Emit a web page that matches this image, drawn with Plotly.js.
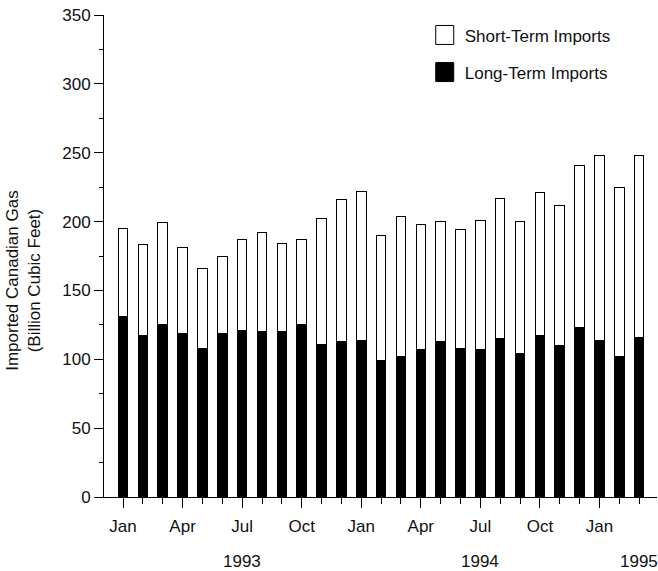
<!DOCTYPE html>
<html>
<head>
<meta charset="utf-8">
<script src="https://cdn.plot.ly/plotly-3.0.1.min.js"></script>
<style>html,body{margin:0;padding:0;background:#fff;}#chart{width:658px;height:571px;}</style>
</head>
<body>
<div id="chart"></div>
<script>
// Months Jan 1993 .. Mar 1995
const months = ["Jan 1993","Feb 1993","Mar 1993","Apr 1993","May 1993","Jun 1993","Jul 1993","Aug 1993","Sep 1993","Oct 1993","Nov 1993","Dec 1993",
                "Jan 1994","Feb 1994","Mar 1994","Apr 1994","May 1994","Jun 1994","Jul 1994","Aug 1994","Sep 1994","Oct 1994","Nov 1994","Dec 1994",
                "Jan 1995","Feb 1995","Mar 1995"];
const longTerm  = [131,117,125,119,108,119,121,120,120,125,111,113,114,99,102,107,113,108,107,115,104,117,110,123,114,102,116];
const totals    = [195,183,199,181,166,175,187,192,184,187,202,216,222,190,204,198,200,194,201,217,200,221,212,241,248,225,248];
const shortTerm = totals.map((t, i) => t - longTerm[i]);
const tickLabels = ["Jan","Apr","Jul","Oct","Jan","Apr","Jul","Oct","Jan"];
const tickIdx    = [0,3,6,9,12,15,18,21,24];
const yearLabels = ["1993","1994","1995"];
const yearIdx    = [6,18,26];
const yTitle = "Imported Canadian Gas<br>(Billion Cubic Feet)";

const xs = months.map((m, i) => i);
const FAM = "Liberation Sans, Arial, sans-serif";
const TXT = "#111";

const traces = [
  {type: "bar", name: "Long-Term Imports", x: xs, y: longTerm, text: months, textposition: "none", hoverinfo: "text+y",
   marker: {color: "#000", line: {color: "#000", width: 1}}, width: 0.48, legendrank: 2, legendgroup: "a"},
  {type: "bar", name: "Short-Term Imports", x: xs, y: shortTerm, text: months, textposition: "none", hoverinfo: "text+y",
   marker: {color: "#fff", line: {color: "#000", width: 1}}, width: 0.48, legendrank: 1, legendgroup: "b"}
];

const layout = {
  width: 658, height: 571,
  margin: {l: 104, r: 1, t: 15, b: 74},
  paper_bgcolor: "#fff", plot_bgcolor: "#fff",
  font: {family: FAM, size: 17, color: TXT},
  barmode: "stack",
  showlegend: true,
  legend: {x: 0.58, y: 0.995, xanchor: "left", yanchor: "top", traceorder: "grouped",
           tracegroupgap: 12, font: {family: FAM, size: 17, color: TXT}, bgcolor: "rgba(0,0,0,0)"},
  xaxis: {
    range: [-0.96, 26.9], showgrid: false, zeroline: false,
    showline: true, linecolor: "#000", linewidth: 1,
    tickmode: "array", tickvals: tickIdx, ticktext: tickLabels,
    ticks: "outside", ticklen: 10, tickcolor: "#000", tickwidth: 1, ticklabelstandoff: 4,
    minor: {ticks: "outside", ticklen: 6, tickcolor: "#000", tickmode: "linear", tick0: 0, dtick: 1, showgrid: false},
    tickfont: {family: FAM, size: 17, color: TXT}
  },
  yaxis: {
    range: [0, 350], showgrid: false, zeroline: false,
    showline: true, linecolor: "#000", linewidth: 1,
    tickmode: "linear", tick0: 0, dtick: 50,
    ticks: "outside", ticklen: 9, tickcolor: "#000", tickwidth: 1,
    minor: {ticks: "outside", ticklen: 4, tickcolor: "#000", dtick: 25, showgrid: false},
    tickfont: {family: FAM, size: 17, color: TXT}
  },
  annotations: yearLabels.map((t, i) => ({
    text: t, x: yearIdx[i], xref: "x", y: -0.133, yref: "paper", yanchor: "middle", xanchor: "center",
    showarrow: false, font: {family: FAM, size: 17, color: TXT}
  })).concat([{
    text: yTitle, textangle: -90, x: -0.147, xref: "paper", y: 0.45, yref: "paper",
    xanchor: "center", yanchor: "middle", showarrow: false, font: {family: FAM, size: 17, color: TXT}
  }])
};

Plotly.newPlot("chart", traces, layout, {displayModeBar: false, staticPlot: true}).then(function () {
  document.querySelectorAll("#chart .legend .legendpoints path").forEach(function (p) {
    p.setAttribute("d", "M9,9.5H-9V-9.5H9Z");
  });
});
</script>
</body>
</html>
